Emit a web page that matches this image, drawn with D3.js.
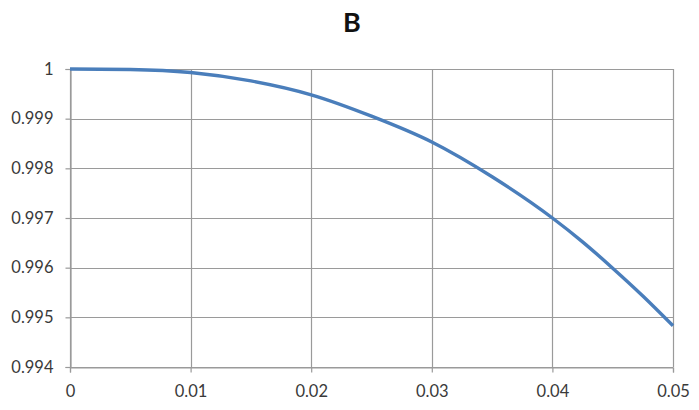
<!DOCTYPE html>
<html><head><meta charset="utf-8">
<script src="https://cdn.jsdelivr.net/npm/d3@7"></script>
<style>html,body{margin:0;padding:0;background:#fff;}</style>
</head><body>
<svg id="chart" width="699" height="410"></svg>
<script>
const xValues = [0, 0.005, 0.01, 0.015, 0.02, 0.025, 0.03, 0.035, 0.04, 0.0425, 0.045, 0.0475, 0.05];
const yValues = [1, 0.99999, 0.99993, 0.99976, 0.99948, 0.99905, 0.99853, 0.99783, 0.997, 0.99652, 0.99599, 0.99543, 0.99483];
const xTicks = [0, 0.01, 0.02, 0.03, 0.04, 0.05];
const xTickLabels = ["0", "0.01", "0.02", "0.03", "0.04", "0.05"];
const yTicks = [0.994, 0.995, 0.996, 0.997, 0.998, 0.999, 1];
const yTickLabels = ["0.994", "0.995", "0.996", "0.997", "0.998", "0.999", "1"];
const title = "B";

(function () {
const svg = d3.select("#chart");
const mLeft = 70, mRight = 673, mTop = 69, mBottom = 367;
const x = d3.scaleLinear().domain([0, 0.05]).range([mLeft, mRight]);
const y = d3.scaleLinear().domain([0.994, 1]).range([mBottom, mTop]);
const grid = "#9a9a9a";
const font = "Lato, 'Open Sans', sans-serif";

svg.append("g").selectAll("line").data(yTicks).join("line")
  .attr("x1", mLeft).attr("x2", mRight)
  .attr("y1", d => Math.round(y(d)) + 0.5).attr("y2", d => Math.round(y(d)) + 0.5)
  .attr("stroke", grid).attr("stroke-width", 1.2);
svg.append("g").selectAll("line").data(xTicks).join("line")
  .attr("y1", mTop).attr("y2", mBottom)
  .attr("x1", d => Math.round(x(d)) + 0.5).attr("x2", d => Math.round(x(d)) + 0.5)
  .attr("stroke", grid).attr("stroke-width", 1.2);

const xAxis = d3.axisBottom(x).tickValues(xTicks).tickSize(5).tickPadding(13)
  .tickFormat((d, i) => xTickLabels[i]);
const gx = svg.append("g").attr("transform", `translate(0,${Math.round(y(0.994)) + 0.5})`).call(xAxis);
gx.select(".domain").attr("stroke", grid).attr("stroke-width", 1.2);
gx.selectAll(".tick line").attr("stroke", grid).attr("stroke-width", 1.2);
gx.selectAll("text").attr("font-family", font).attr("font-size", 16.5).attr("fill", "#3a3a3a");

const yAxis = d3.axisLeft(y).tickValues(yTicks).tickSize(5).tickPadding(12)
  .tickFormat((d, i) => yTickLabels[i]);
const gy = svg.append("g").attr("transform", `translate(${Math.round(x(0)) + 0.5},0)`).call(yAxis);
gy.select(".domain").attr("stroke", grid).attr("stroke-width", 1.2);
gy.selectAll(".tick line").attr("stroke", grid).attr("stroke-width", 1.2);
gy.selectAll("text").attr("font-family", font).attr("font-size", 16.5).attr("fill", "#3a3a3a");

const pts = xValues.map((v, i) => [v, yValues[i]]);
svg.append("path").datum(pts)
  .attr("fill", "none").attr("stroke", "#4a7ebb").attr("stroke-width", 3.4)
  .attr("d", d3.line().x(d => x(d[0])).y(d => y(d[1])).curve(d3.curveMonotoneX));

svg.append("text").attr("x", 352).attr("y", 32).attr("text-anchor", "middle")
  .attr("font-family", font).attr("font-weight", "bold").attr("font-size", 27)
  .attr("fill", "#111").text(title);
})();
</script>
</body></html>
